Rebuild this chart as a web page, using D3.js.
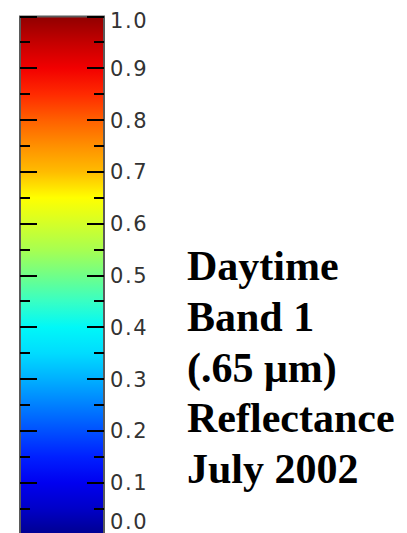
<!DOCTYPE html>
<html>
<head>
<meta charset="utf-8">
<script src="https://cdn.jsdelivr.net/npm/d3@7"></script>
<style>
  html, body { margin: 0; padding: 0; background: #fff; }
  svg { display: block; }
</style>
</head>
<body>
<svg id="chart" width="407" height="533"></svg>
<script>
// Colour ramp for reflectance (value -> colour)
const stopValues = [0.0, 0.05, 0.1, 0.15, 0.2, 0.25, 0.3, 0.35, 0.4, 0.45, 0.5, 0.55, 0.6, 0.65, 0.7, 0.75, 0.8, 0.85, 0.9, 0.95, 1.0];
const stopColors = ["#000090", "#0000c8", "#0000f0", "#0020ff", "#0050ff", "#0080ff", "#00b0ff", "#00dcff", "#00f8f8", "#38ffc4", "#70ff88", "#a8ff50", "#d4ff28", "#ffff00", "#ffbc00", "#ff9000", "#ff6000", "#ff2a00", "#f20000", "#c40000", "#900000"];

// Axis ticks and their labels
const majorTicks = [0.0, 0.1, 0.2, 0.3, 0.4, 0.5, 0.6, 0.7, 0.8, 0.9, 1.0];
const minorTicks = [0.05, 0.15, 0.25, 0.35, 0.45, 0.55, 0.65, 0.75, 0.85, 0.95];
const tickLabels = ["0.0", "0.1", "0.2", "0.3", "0.4", "0.5", "0.6", "0.7", "0.8", "0.9", "1.0"];

// Caption lines
const caption = ["Daytime", "Band 1", "(.65 \u03bcm)", "Reflectance", "July 2002"];

const svg = d3.select("#chart");

const barLeft = 20, barRight = 104;
const y = d3.scaleLinear().domain([0, 1]).range([534.5, 16.5]);

// Vertical gradient for the colour bar
const defs = svg.append("defs");
const grad = defs.append("linearGradient")
  .attr("id", "ramp")
  .attr("gradientUnits", "userSpaceOnUse")
  .attr("x1", 0).attr("x2", 0)
  .attr("y1", y(0)).attr("y2", y(1));
grad.selectAll("stop")
  .data(stopValues)
  .join("stop")
  .attr("offset", d => d)
  .attr("stop-color", (d, i) => stopColors[i]);

svg.append("rect")
  .attr("x", barLeft)
  .attr("y", y(1))
  .attr("width", barRight - barLeft)
  .attr("height", y(0) - y(1))
  .attr("fill", "url(#ramp)")
  .attr("stroke", "#5a5a5a")
  .attr("stroke-width", 2);

// Ticks on both sides of the bar
const ticks = svg.append("g").attr("stroke", "#000").attr("stroke-width", 2);
function drawTicks(values, len) {
  ticks.append("g").selectAll("line")
    .data(values)
    .join("line")
    .attr("x1", barLeft).attr("x2", barLeft + len)
    .attr("y1", d => Math.round(y(d))).attr("y2", d => Math.round(y(d)));
  ticks.append("g").selectAll("line")
    .data(values)
    .join("line")
    .attr("x1", barRight - len).attr("x2", barRight)
    .attr("y1", d => Math.round(y(d))).attr("y2", d => Math.round(y(d)));
}
drawTicks(majorTicks, 17);
drawTicks(minorTicks, 10);

// Tick labels, kept inside the visible area at the ends
svg.append("g")
  .selectAll("text")
  .data(majorTicks)
  .join("text")
  .attr("x", 110)
  .attr("y", d => Math.min(Math.max(y(d), 20), 521))
  .attr("dy", "0.36em")
  .attr("font-family", "DejaVu Sans, sans-serif")
  .attr("font-size", 21)
  .attr("letter-spacing", 1.6)
  .attr("fill", "#333")
  .text((d, i) => tickLabels[i]);

// Caption
svg.append("g")
  .selectAll("text")
  .data(caption)
  .join("text")
  .attr("x", 187)
  .attr("y", (d, i) => 280 + i * 50.8)
  .attr("font-family", "Liberation Serif, Times New Roman, serif")
  .attr("font-weight", "bold")
  .attr("font-size", 42)
  .attr("fill", "#000")
  .text(d => d);
</script>
</body>
</html>
